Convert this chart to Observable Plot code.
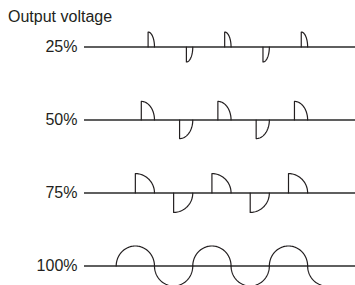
<!DOCTYPE html>
<html>
<head>
<meta charset="utf-8">
<script src="https://cdn.jsdelivr.net/npm/d3@7"></script>
<script src="https://cdn.jsdelivr.net/npm/@observablehq/plot@0.6"></script>
<style>
  html, body { margin: 0; padding: 0; background: #fff; }
  #wrap { position: relative; width: 355px; height: 285px; font-family: "Liberation Sans", Arial, Helvetica, sans-serif; }
  #title { position: absolute; left: 8px; top: 8px; font-size: 16px; color: #231f20; white-space: nowrap; }
  #chart { position: absolute; left: 0; top: 0; }
</style>
</head>
<body>
<div id="wrap">
  <div id="chart"></div>
  <div id="title"></div>
</div>
<script>
// --- data ---
const title = "Output voltage";
const rows = ["25%", "50%", "75%", "100%"];          // output levels (top to bottom)
const firingAngle = [150, 118, 90, 0];              // firing angle (deg) within each half-cycle
const pulseHeight = [0.75, 0.93, 0.97, 1.0];        // pulse height relative to peak voltage
const halfCycles = [5, 5, 5, 5.5];                  // number of half-cycles drawn per row

// --- build waveform geometry (rounded half-cycle lobes as drawn) ---
const AMP = 0.274; // peak voltage in row-spacing units
const pts = [];
rows.forEach((label, r) => {
  const f = firingAngle[r], h = pulseHeight[r], n = halfCycles[r];
  for (let k = 0; k < n; k++) {
    const s = k % 2 ? -1 : 1, id = "r" + r + "k" + k;
    const frac = Math.min(1, n - k); // partial last half-cycle
    if (f === 0) {
      // full half-cycle lobe from k*180 to (k+1)*180
      const tMax = 180 * frac;
      for (let t = 0; t <= tMax + 1e-9; t += 3) {
        const a = t * Math.PI / 180;
        pts.push({id, x: k * 180 + 90 * (1 - Math.cos(a)), y: r - s * AMP * h * Math.sin(a)});
      }
    } else {
      const x0 = k * 180 + f, x1 = (k + 1) * 180;
      pts.push({id, x: x0, y: r});
      for (let t = 0; t <= 90; t += 3) {
        const a = t * Math.PI / 180;
        pts.push({id, x: x0 + (x1 - x0) * Math.sin(a), y: r - s * AMP * h * Math.cos(a)});
      }
    }
  }
});

document.getElementById("title").textContent = title;

const chart = Plot.plot({
  width: 355,
  height: 285,
  marginLeft: 84,
  marginRight: 0,
  marginTop: 0,
  marginBottom: 0,
  style: {fontFamily: '"Liberation Sans", Arial, Helvetica, sans-serif', fontSize: "16px", color: "#231f20", background: "transparent"},
  x: {domain: [-149, 1125], axis: null},
  y: {domain: [0, 3], range: [46.5, 265.5], axis: null},
  marks: [
    Plot.ruleY(rows.map((d, i) => i), {stroke: "#2a2a2a", strokeWidth: 1.3}),
    Plot.line(pts, {x: "x", y: "y", z: "id", stroke: "#231f20", strokeWidth: 1.2, curve: "linear"}),
    Plot.axisY(rows.map((d, i) => i), {
      tickFormat: i => rows[i],
      tickSize: 0,
      tickPadding: 7,
      fontSize: 16,
      fill: "#231f20",
      label: null
    })
  ]
});
document.getElementById("chart").append(chart);
</script>
</body>
</html>
